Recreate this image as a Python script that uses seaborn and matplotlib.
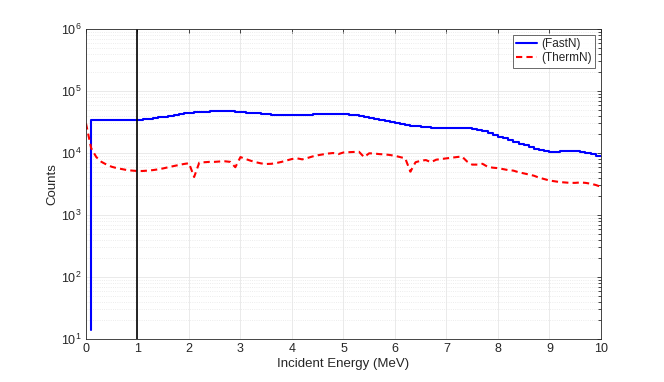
import numpy as np
import pandas as pd
import matplotlib
matplotlib.use("Agg")
import matplotlib.pyplot as plt
import seaborn as sns
from matplotlib.ticker import LogLocator, NullFormatter

# fast neutron counts, bin upper edges 0.1 .. 10.0 MeV (first point is the spike at 0.1)
fast_energy = np.round(np.arange(1, 101) * 0.1, 1)
fast_counts = [
    14, 34500, 34600, 34600, 34500, 34400, 34300, 34200, 34100, 34100,
    34300, 34800, 35500, 36400, 37600, 38700, 40000, 41300, 42500, 43600,
    44500, 45300, 46000, 46600, 47100, 47500, 47700, 47600, 47200, 46600,
    45800, 45000, 44200, 43500, 42800, 42200, 41800, 41500, 41300, 41200,
    41200, 41300, 41500, 41700, 42000, 42300, 42500, 42600, 42600, 42400,
    42000, 41300, 40300, 39200, 38000, 36700, 35300, 34000, 32700, 31500,
    30400, 29400, 28500, 27700, 27000, 26400, 25900, 25500, 25300, 25200,
    25300, 25500, 25700, 25600, 25200, 24500, 23500, 22300, 21000, 19600,
    18300, 17200, 16200, 15200, 14200, 13300, 12400, 11700, 11100, 10700,
    10500, 10500, 10600, 10700, 10800, 10700, 10500, 10100, 9600, 9000,
]

# thermal neutron counts, 0.0 .. 10.0 MeV
therm_energy = np.round(np.arange(0, 101) * 0.1, 1)
therm_counts = [
    30000,
    12000, 8600, 7200, 6500, 6000, 5700, 5500, 5300, 5200, 5130,
    5130, 5200, 5300, 5450, 5650, 5900, 6150, 6400, 6650, 6850,
    4100, 7000, 7100, 7200, 7200, 7300, 7350, 7200, 5900, 8600,
    8000, 7500, 7100, 6800, 6650, 6700, 6900, 7200, 7600, 8000,
    8200, 7900, 8300, 8800, 9200, 9500, 9800, 10000, 9600, 10200,
    10300, 10400, 10500, 8600, 9900, 9800, 9600, 9500, 9300, 9000,
    8600, 8200, 5000, 7100, 7500, 7700, 7100, 7800, 8000, 8200,
    8400, 8600, 8800, 7300, 6500, 6500, 6700, 6000, 5800, 5700,
    5500, 5300, 5200, 4900, 4700, 4500, 4300, 4000, 3800, 3600,
    3500, 3400, 3350, 3300, 3300, 3350, 3300, 3200, 3050, 2850,
]

fast = pd.DataFrame({"energy": fast_energy, "counts": fast_counts})
therm = pd.DataFrame({"energy": therm_energy, "counts": therm_counts})

sns.set_theme(style="whitegrid")
plt.rcParams["font.family"] = ["Liberation Sans", "DejaVu Sans"]

fig = plt.figure(figsize=(6.64, 3.82), dpi=100)
ax = fig.add_axes([0.1295, 0.1126, 0.7755, 0.8114])

sns.lineplot(data=fast, x="energy", y="counts", ax=ax, color="#0000ff",
             linewidth=1.5, drawstyle="steps-pre", label="(FastN)", sort=False)
sns.lineplot(data=therm, x="energy", y="counts", ax=ax, color="#ff0000",
             linewidth=1.5, dashes=(3, 2), label="(ThermN)", sort=False)

ax.axvline(1, color="black", linewidth=1.2)

ax.set_yscale("log")
ax.set_xlim(0, 10)
ax.set_ylim(10, 1e6)
ax.set_xticks(range(0, 11))
ax.yaxis.set_major_locator(LogLocator(base=10, numticks=10))
ax.yaxis.set_minor_locator(LogLocator(base=10, subs=np.arange(2, 10), numticks=20))
ax.yaxis.set_minor_formatter(NullFormatter())

ax.grid(True, which="major", color="#e6e6e6", linewidth=0.6, linestyle="-")
ax.grid(True, which="minor", axis="y", color="#e6e6e6", linewidth=0.6, linestyle=":")
ax.set_facecolor("white")

for s in ax.spines.values():
    s.set_visible(True)
    s.set_color("#262626")
    s.set_linewidth(0.6)
ax.tick_params(which="both", direction="in", top=True, right=True,
               labelsize=9, colors="#262626", length=3, width=0.6)
ax.tick_params(which="minor", length=2)
ax.tick_params(axis="both", which="major", pad=3)

ax.set_xlabel("Incident Energy (MeV)", fontsize=9.5, color="#262626", labelpad=2)
ax.set_ylabel("Counts", fontsize=9.5, color="#262626", labelpad=2)

leg = ax.legend(loc="upper right", fontsize=8.5, frameon=True, fancybox=False,
                handlelength=1.8, borderpad=0.3, labelspacing=0.15,
                handletextpad=0.3, borderaxespad=0.5)
leg.get_frame().set_edgecolor("#262626")
leg.get_frame().set_linewidth(0.6)

fig.savefig("out.png", dpi=100)
